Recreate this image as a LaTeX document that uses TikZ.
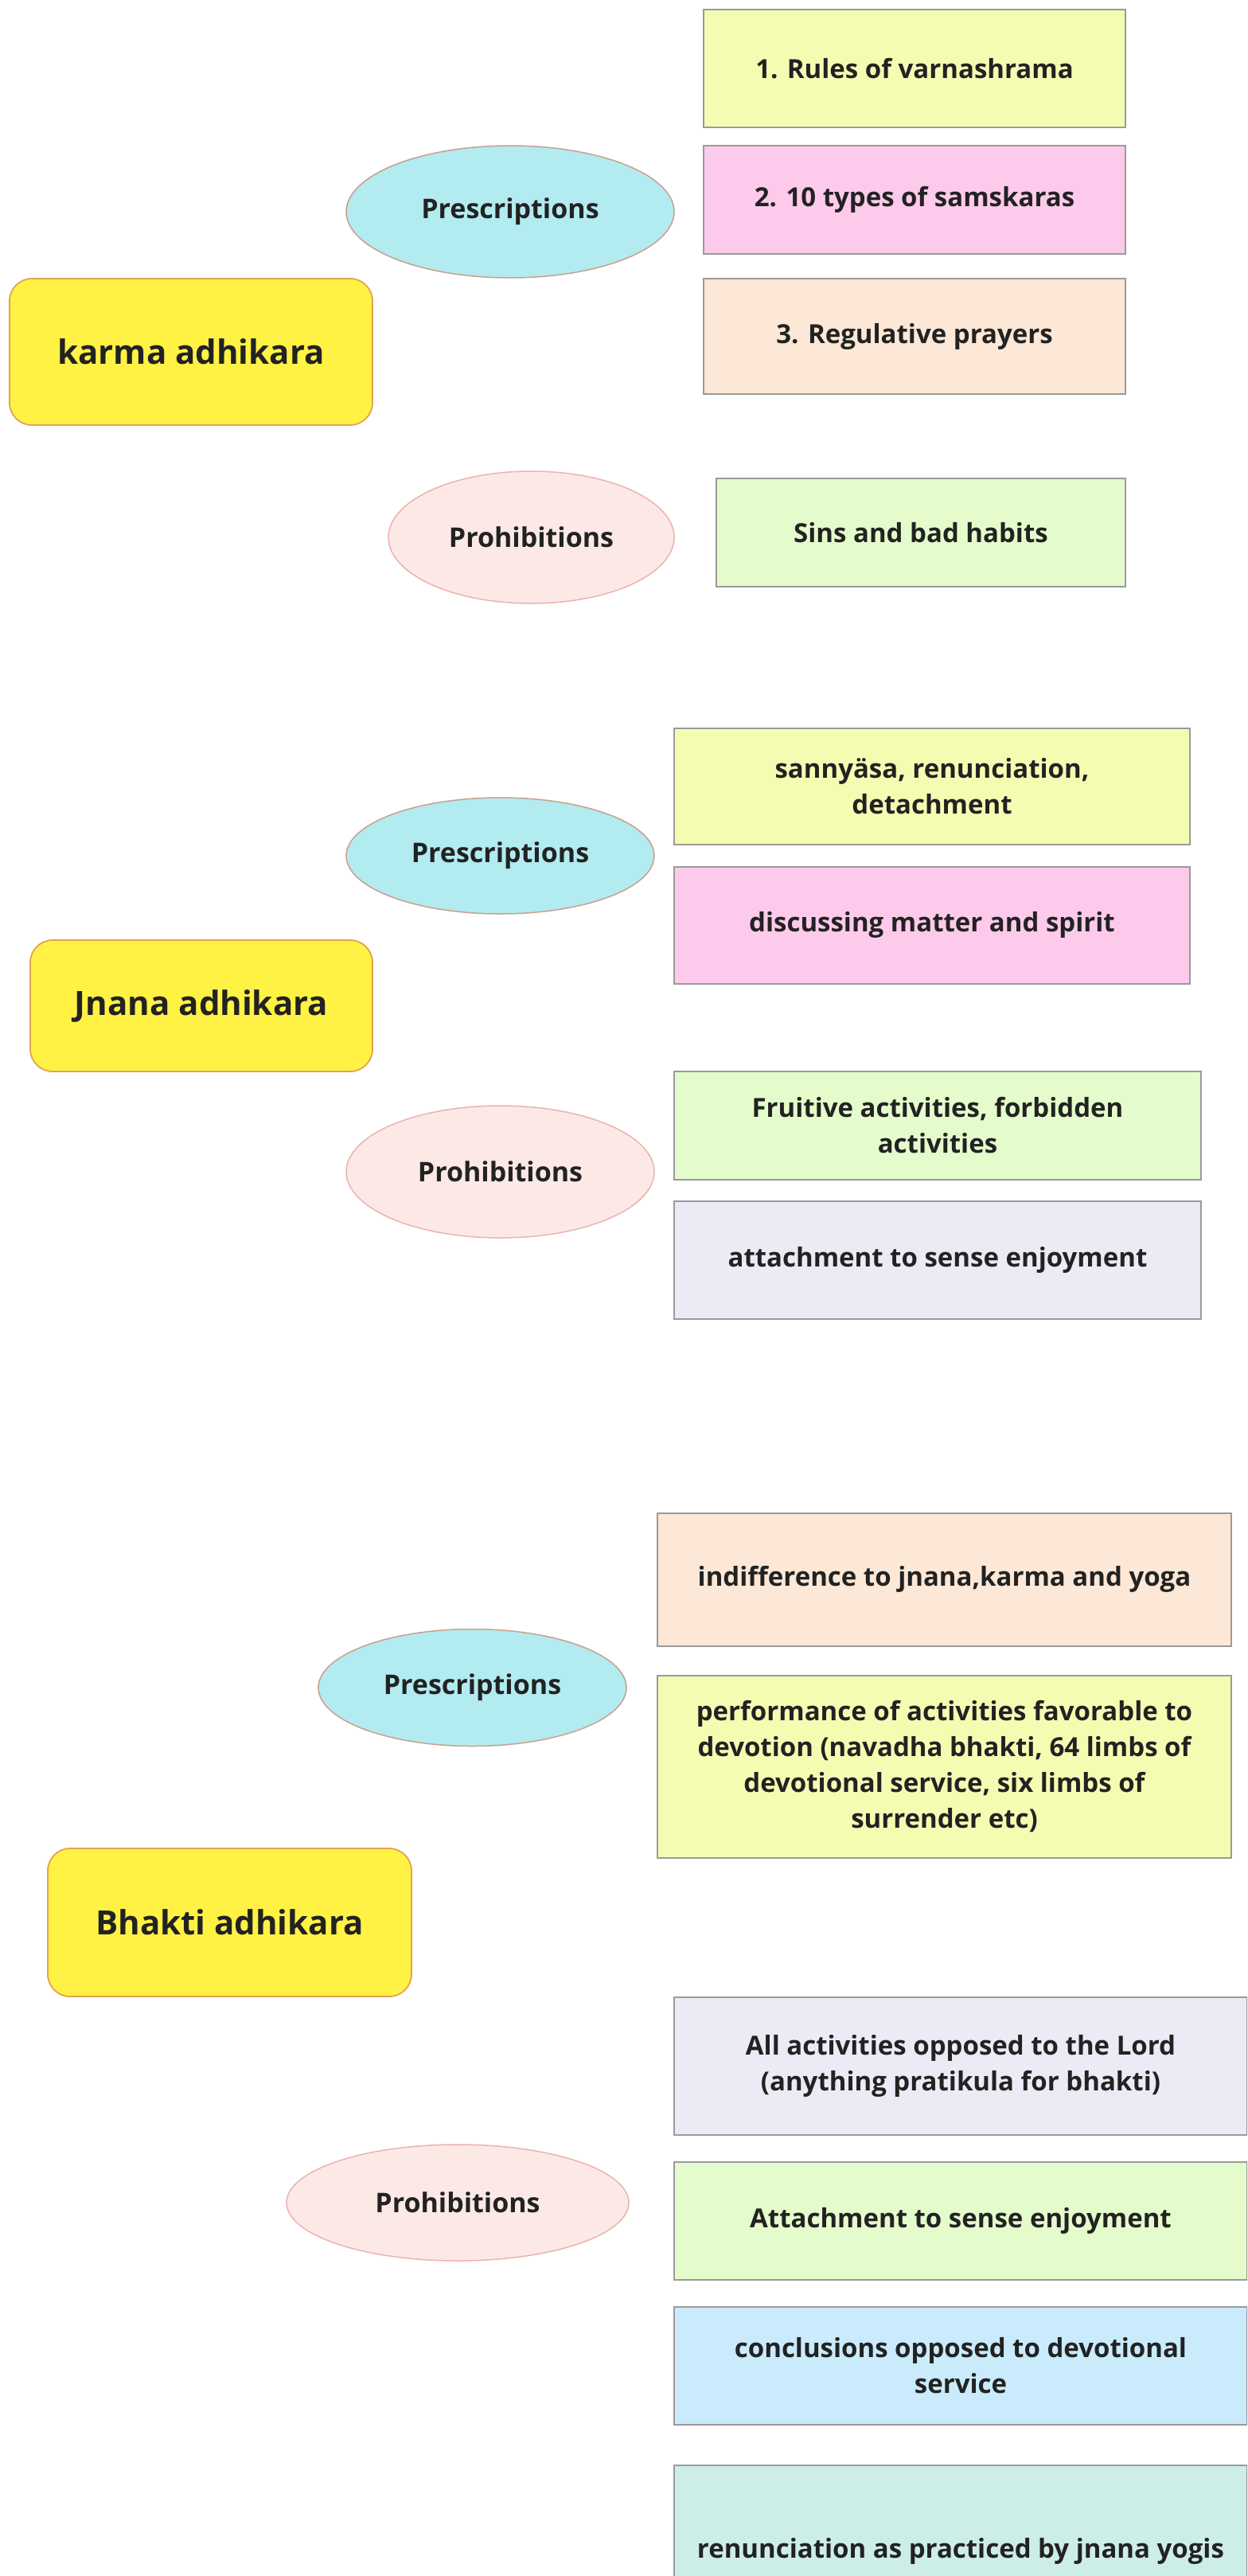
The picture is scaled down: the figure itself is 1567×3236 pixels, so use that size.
\documentclass[tikz,border=0pt]{standalone}
\usepackage{fontspec}
\setmainfont{Open Sans}
\usetikzlibrary{shapes.geometric}
\definecolor{txt}{HTML}{222222}
\definecolor{mainfill}{HTML}{FFF244}
\definecolor{mainline}{HTML}{E3A24E}
\definecolor{prefill}{HTML}{B2EBF0}
\definecolor{preline}{HTML}{C9A08E}
\definecolor{profill}{HTML}{FCE9E6}
\definecolor{proline}{HTML}{EBB3AE}
\definecolor{boxline}{HTML}{9A9A9A}
\definecolor{clime}{HTML}{F4FCB2}
\definecolor{cpink}{HTML}{FDCAEB}
\definecolor{cpeach}{HTML}{FDE7D6}
\definecolor{cgreen}{HTML}{E4FCCB}
\definecolor{clav}{HTML}{EBEBF5}
\definecolor{cblue}{HTML}{C9EBFB}
\definecolor{cmint}{HTML}{CDEDE7}
\tikzset{
  mainbox/.style={rectangle, rounded corners=28pt, fill=mainfill, draw=mainline, line width=1.8pt, inner sep=0pt, text=txt, font=\fontsize{42}{50}\selectfont\bfseries},
  preell/.style={ellipse, fill=prefill, draw=preline, line width=1.5pt, inner sep=0pt, text=txt, font=\fontsize{34}{40}\selectfont\bfseries},
  proell/.style={ellipse, fill=profill, draw=proline, line width=1.5pt, inner sep=0pt, text=txt, font=\fontsize{34}{40}\selectfont\bfseries},
  itembox/.style={rectangle, draw=boxline, line width=2pt, inner sep=0pt, align=center, text=txt, font=\fontsize{33}{45}\selectfont\bfseries},
}
\begin{document}
\begin{tikzpicture}[x=1pt,y=-1pt]
\useasboundingbox (0,0) rectangle (1567,3236);
\clip (0,0) rectangle (1567,3236);
\fill[white] (0,0) rectangle (1567,3236);
% ---- karma ----
\node[mainbox, minimum width=456pt, minimum height=184pt] (k1) at (240,442) {karma adhikara};
\node[preell, minimum width=412pt, minimum height=166pt] (p1) at (641,266) {Prescriptions};
\node[proell, minimum width=359pt, minimum height=166pt] (h1) at (667.5,675) {Prohibitions};
\node[itembox, fill=clime, minimum width=530pt, minimum height=148pt] (b11) at (1149,86) {1. Rules of varnashrama};
\node[itembox, fill=cpink, minimum width=530pt, minimum height=136pt] (b12) at (1149,251) {2. 10 types of samskaras};
\node[itembox, fill=cpeach, minimum width=530pt, minimum height=145pt] (b13) at (1149,422.5) {3. Regulative prayers};
\node[itembox, fill=cgreen, minimum width=514pt, minimum height=136pt] (b14) at (1157,669) {Sins and bad habits};
% ---- jnana ----
\node[mainbox, minimum width=430pt, minimum height=165pt] (k2) at (253,1263.5) {Jnana adhikara};
\node[preell, minimum width=387pt, minimum height=146pt] (p2) at (628.5,1075) {Prescriptions};
\node[proell, minimum width=387pt, minimum height=166pt] (h2) at (628.5,1472) {Prohibitions};
\node[itembox, fill=clime, minimum width=648pt, minimum height=146pt] (b21) at (1171,988) {sannyäsa, renunciation,\\detachment};
\node[itembox, fill=cpink, minimum width=648pt, minimum height=147pt] (b22) at (1171,1162) {discussing matter and spirit};
\node[itembox, fill=cgreen, minimum width=662pt, minimum height=136pt] (b23) at (1178,1414) {Fruitive activities, forbidden\\activities};
\node[itembox, fill=clav, minimum width=662pt, minimum height=148pt] (b24) at (1178,1582.5) {attachment to sense enjoyment};
% ---- bhakti ----
\node[mainbox, minimum width=457pt, minimum height=186pt] (k3) at (288.5,2415) {Bhakti adhikara};
\node[preell, minimum width=387pt, minimum height=147pt] (p3) at (593.5,2120) {Prescriptions};
\node[proell, minimum width=430pt, minimum height=146pt] (h3) at (575,2767) {Prohibitions};
\node[itembox, fill=cpeach, minimum width=721pt, minimum height=167pt] (b31) at (1186.5,1984) {indifference to jnana,karma and yoga};
\node[itembox, fill=clime, minimum width=721pt, minimum height=229pt] (b32) at (1186.5,2219) {performance of activities favorable to\\devotion (navadha bhakti, 64 limbs of\\devotional service, six limbs of\\surrender etc)};
\node[itembox, fill=clav, minimum width=720pt, minimum height=173pt] (b33) at (1207,2595.5) {All activities opposed to the Lord\\(anything pratikula for bhakti)};
\node[itembox, fill=cgreen, minimum width=720pt, minimum height=148pt] (b34) at (1207,2789.6) {Attachment to sense enjoyment};
\node[itembox, fill=cblue, minimum width=720pt, minimum height=148pt] (b35) at (1207,2971.5) {conclusions opposed to devotional\\service};
\node[itembox, fill=cmint, minimum width=720pt, minimum height=216pt] (b36) at (1207,3205) {renunciation as practiced by jnana yogis};
\end{tikzpicture}
\end{document}
